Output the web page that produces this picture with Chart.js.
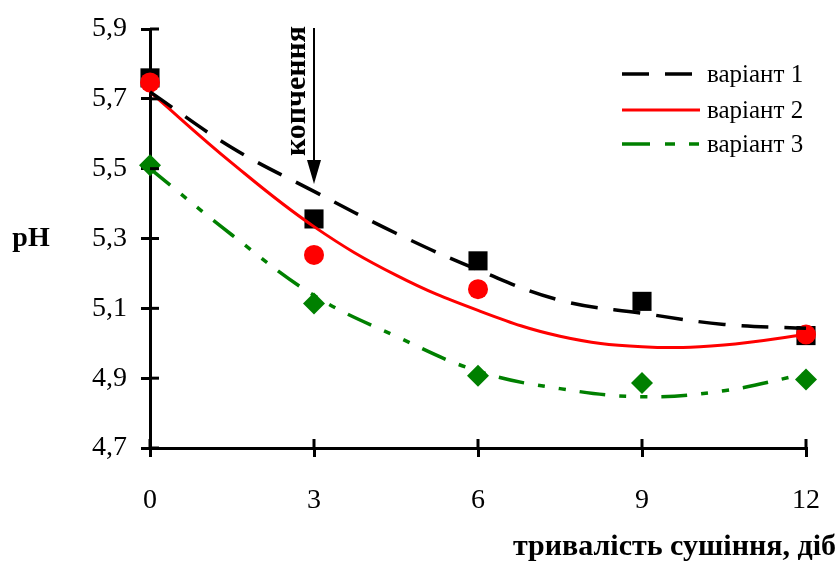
<!DOCTYPE html>
<html>
<head>
<meta charset="utf-8">
<script src="https://cdn.jsdelivr.net/npm/chart.js@4.4.1/dist/chart.umd.min.js"></script>
<style>
  html, body { margin: 0; padding: 0; background: #fff; }
  #wrap { width: 837px; height: 561px; }
</style>
</head>
<body>
<div id="wrap"><canvas id="c" width="837" height="561"></canvas></div>
<script>
// ---- data ----
const xValues = [0, 3, 6, 9, 12];
const v1Points = [5.76, 5.356, 5.236, 5.12, 5.022];
const v2Points = [5.747, 5.253, 5.155, null, 5.025];
const v3Points = [5.51, 5.114, 4.907, 4.886, 4.896];

const curveX = [0, 1.5, 3, 4.5, 6, 7.5, 9, 10.5, 12];
const v1Curve = [5.72, 5.56, 5.435, 5.315, 5.21, 5.123, 5.086, 5.054, 5.043];
const v2Curve = [5.72, 5.516, 5.334, 5.195, 5.094, 5.02, 4.99, 4.995, 5.025];
const v3Curve = [5.50, 5.31, 5.137, 5.02, 4.92, 4.87, 4.847, 4.864, 4.913];

const seriesNames = ['варіант 1', 'варіант 2', 'варіант 3'];
const xTicks = [0, 3, 6, 9, 12];
const yTicks = [4.7, 4.9, 5.1, 5.3, 5.5, 5.7, 5.9];
const arrowX = 3;
const arrowLabel = 'копчення';
const xTitle = 'тривалість сушіння, діб';
const yTitle = 'pH';

const FONT = "'Liberation Serif', 'Times New Roman', serif";
const styles = [
  { color: '#000000', dash: [27, 16], width: 3.5 },
  { color: '#ff0000', dash: [], width: 3 },
  { color: '#008000', dash: [26, 14, 7, 14, 7, 14], width: 3.5 }
];

const toXY = (xs, ys) => xs.map((x, i) => ({ x: x, y: ys[i] })).filter(p => p.y !== null);

const lineDs = (ys, st) => ({
  type: 'line', data: toXY(curveX, ys), borderColor: st.color, borderWidth: st.width,
  borderDash: st.dash, pointRadius: 0, tension: 0.4, fill: false, clip: false
});
const pointDs = (ys, st, style, r) => ({
  type: 'scatter', data: toXY(xValues, ys), pointStyle: style, pointRadius: r,
  pointHoverRadius: r, backgroundColor: st.color, borderColor: st.color, pointBorderWidth: 0,
  showLine: false, clip: false
});

const overlay = {
  id: 'overlay',
  afterDraw(chart) {
    const ctx = chart.ctx, xs = chart.scales.x, ys = chart.scales.y, ca = chart.chartArea;
    ctx.save();
    ctx.strokeStyle = '#000'; ctx.lineWidth = 3;
    ys.ticks.forEach(t => {
      const y = ys.getPixelForValue(t.value);
      ctx.beginPath(); ctx.moveTo(ca.left, y); ctx.lineTo(ca.left + 9, y); ctx.stroke();
    });
    xs.ticks.forEach(t => {
      const x = xs.getPixelForValue(t.value);
      ctx.beginPath(); ctx.moveTo(x, ca.bottom); ctx.lineTo(x, ca.bottom - 9); ctx.stroke();
    });
    // arrow
    const ax = xs.getPixelForValue(arrowX);
    ctx.lineWidth = 2;
    ctx.beginPath(); ctx.moveTo(ax, 28); ctx.lineTo(ax, 165); ctx.stroke();
    ctx.fillStyle = '#000';
    ctx.beginPath(); ctx.moveTo(ax - 7, 160); ctx.lineTo(ax + 7, 160); ctx.lineTo(ax, 184); ctx.closePath(); ctx.fill();
    // rotated label
    ctx.save();
    ctx.translate(ax - 17, 91);
    ctx.rotate(-Math.PI / 2);
    ctx.font = 'bold 30px ' + FONT;
    ctx.textAlign = 'center'; ctx.textBaseline = 'middle';
    ctx.fillText(arrowLabel, 0, 0);
    ctx.restore();
    // legend
    const rows = [74, 110, 144];
    seriesNames.forEach((name, i) => {
      const st = styles[i];
      ctx.strokeStyle = st.color; ctx.lineWidth = st.width;
      ctx.setLineDash(i === 2 ? [28, 15, 10, 14, 10, 14] : st.dash);
      ctx.beginPath(); ctx.moveTo(622, rows[i]); ctx.lineTo(700, rows[i]); ctx.stroke();
      ctx.setLineDash([]);
      ctx.fillStyle = '#000';
      ctx.font = '25px ' + FONT;
      ctx.textAlign = 'left'; ctx.textBaseline = 'middle';
      ctx.fillText(name, 707, rows[i] + 1);
    });
    // axis titles
    ctx.font = 'bold 28px ' + FONT;
    ctx.textAlign = 'center'; ctx.textBaseline = 'alphabetic';
    ctx.fillText(yTitle, 31, 246);
    ctx.font = 'bold 30px ' + FONT;
    ctx.textAlign = 'right';
    ctx.fillText(xTitle, 836, 555);
    ctx.restore();
  }
};

new Chart(document.getElementById('c'), {
  data: {
    datasets: [
      lineDs(v1Curve, styles[0]),
      lineDs(v2Curve, styles[1]),
      lineDs(v3Curve, styles[2]),
      pointDs(v3Points, styles[2], 'rectRot', 11),
      pointDs(v2Points, styles[1], 'circle', 10),
      pointDs(v1Points, styles[0], 'rect', 13.5)
    ]
  },
  options: {
    responsive: false,
    animation: false,
    events: [],
    layout: { padding: { left: 0, right: 31, top: 29, bottom: 0 } },
    plugins: { legend: { display: false }, tooltip: { enabled: false } },
    scales: {
      x: {
        type: 'linear', min: 0, max: 12,
        afterBuildTicks: s => { s.ticks = xTicks.map(v => ({ value: v })); },
        afterFit: s => { s.height = 113; s.paddingLeft = 0; s.paddingRight = 0; },
        grid: { drawOnChartArea: false, tickLength: 9, lineWidth: 3, color: '#000' },
        border: { color: '#000', width: 3 },
        ticks: { color: '#000', padding: 27, font: { family: FONT, size: 28 }, callback: v => String(v) }
      },
      y: {
        type: 'linear', min: 4.7, max: 5.9,
        afterBuildTicks: s => { s.ticks = yTicks.map(v => ({ value: v })); },
        afterFit: s => { s.width = 150; s.paddingTop = 0; s.paddingBottom = 0; },
        grid: { drawOnChartArea: false, tickLength: 9, lineWidth: 3, color: '#000' },
        border: { color: '#000', width: 3 },
        ticks: { color: '#000', padding: 14, font: { family: FONT, size: 28 },
                 callback: v => Number(v).toFixed(1).replace('.', ',') }
      }
    }
  },
  plugins: [overlay]
});
</script>
</body>
</html>
